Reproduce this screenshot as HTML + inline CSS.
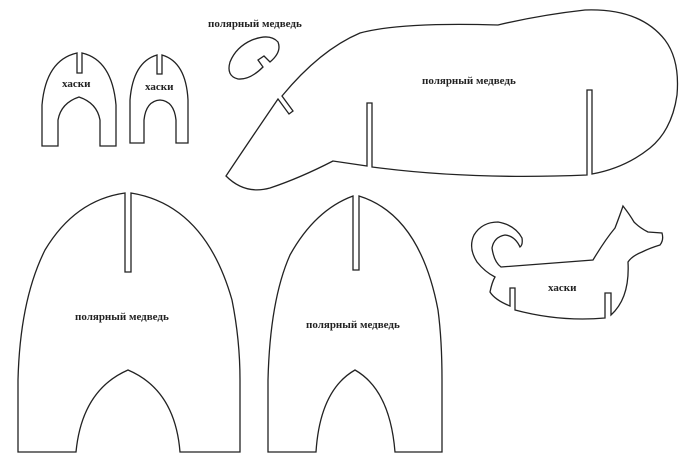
<!DOCTYPE html>
<html><head><meta charset="utf-8"><style>
html,body{margin:0;padding:0;background:#fff;width:700px;height:466px;overflow:hidden}
svg text{font-family:"Liberation Serif",serif;font-size:11px;font-weight:bold;fill:#222}
</style></head><body>
<svg width="700" height="466" viewBox="0 0 700 466" fill="none" stroke="#222" stroke-width="1.3">
<!-- husky piece 1 -->
<path d="M77,53 L77,73 L82,73 L82,53 Q112,60 116,105 L116,146 L100,146 L100,120 Q97,103 79,97 Q61,103 58,120 L58,146 L42,146 L42,105 Q46,60 77,53 Z"/>
<text x="62" y="87" stroke="none">хаски</text>
<!-- husky piece 2 -->
<path d="M157,55 L157,74 L162,74 L162,55 Q186,62 188,100 L188,143 L176,143 L176,120 Q174,101 160,100 Q146,101 144,120 L144,143 L130,143 L130,100 Q133,62 157,55 Z"/>
<text x="145" y="90" stroke="none">хаски</text>
<!-- small oval -->
<text x="208" y="27" stroke="none">полярный медведь</text>
<path d="M263,67 Q250,80 238,79 Q226,76 230,62 Q236,47 252,40 Q270,33 278,42 Q282,52 270,62 L264,56 L258,60 Z"/>
<!-- bear body -->
<path d="M282,96 Q320,50 360,33 Q400,22 498,25 Q540,15 585,10 Q640,8 665,40 Q680,60 677,95 Q672,130 650,148 Q625,168 592,174 L592,90 L587,90 L587,175 Q470,180 372,167 L372,103 L367,103 L367,166 L333,161 Q300,178 270,188 Q245,195 226,176 Q250,140 278,99 L289,114 L293,111 Z"/>
<text x="422" y="84" stroke="none">полярный медведь</text>
<!-- bear leg left -->
<path d="M125,193 L125,272 L131,272 L131,193 Q205,205 232,300 Q240,340 240,380 L240,452 L180,452 Q175,390 128,370 Q82,390 76,452 L18,452 L18,380 Q20,300 45,250 Q75,200 125,193 Z"/>
<text x="75" y="320" stroke="none">полярный медведь</text>
<!-- bear leg right -->
<path d="M353,196 L353,270 L359,270 L359,196 Q420,215 438,310 Q442,340 442,380 L442,452 L395,452 Q390,390 355,370 Q320,390 316,452 L268,452 L268,380 Q270,300 290,255 Q315,210 353,196 Z"/>
<text x="306" y="328" stroke="none">полярный медведь</text>
<!-- husky dog -->
<path d="M501,267 L593,260 Q605,240 615,228 Q620,215 623,206 Q630,215 634,222 Q640,228 648,232 L662,233 Q664,240 660,245 Q650,248 642,252 Q632,256 628,262 Q630,298 611,315 L611,293 L605,293 L605,318 Q560,322 515,310 L515,288 L510,288 L510,306 Q495,300 490,292 Q492,282 495,277 Q485,272 477,262 Q468,248 474,235 Q482,222 498,222 Q515,225 522,238 Q523,245 520,247 Q515,236 505,235 Q494,237 492,248 Q494,262 501,267 Z"/>
<text x="548" y="291" stroke="none">хаски</text>
</svg>
</body></html>
